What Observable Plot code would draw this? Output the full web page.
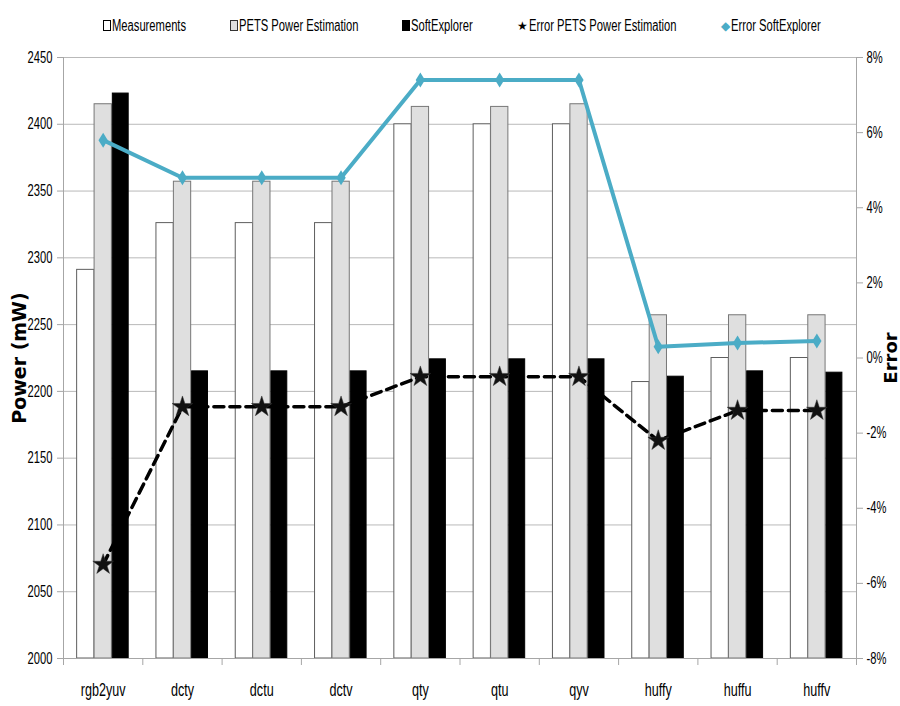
<!DOCTYPE html>
<html>
<head>
<meta charset="utf-8">
<script src="https://cdn.jsdelivr.net/npm/d3@7"></script>
<script src="https://cdn.jsdelivr.net/npm/@observablehq/plot@0.6"></script>
<style>
  body { margin: 0; background: #fff; }
  #legend {
    height: 40px; display: flex; align-items: center; padding: 11px 0 0 103px; box-sizing: border-box; gap: 44px;
    font-family: "Liberation Sans", Arial, sans-serif; font-size: 16px; color: #000;
  }
  #legend .item { display: flex; align-items: center; white-space: nowrap; }
  #legend .box { display: inline-block; width: 8px; height: 11px; box-sizing: border-box; margin-right: 1px; }
  #legend .sym { display: inline-block; font-size: 12px; line-height: 1; margin-right: 1px; }
  #legend .label { display: inline-block; transform: scaleX(0.7); transform-origin: left center; }
</style>
</head>
<body>
<div id="legend"></div>
<div id="chart"></div>
<script>
// Kernels and the power of each run
const categories = ["rgb2yuv", "dcty", "dctu", "dctv", "qty", "qtu", "qyv", "huffy", "huffu", "huffv"];
const measurements = [2291, 2326, 2326, 2326, 2400, 2400, 2400, 2207, 2225, 2225];
const petsEstimation = [2415, 2357, 2357, 2357, 2413, 2413, 2415, 2257, 2257, 2257];
const softExplorer = [2423, 2215, 2215, 2215, 2224, 2224, 2224, 2211, 2215, 2214];
// Estimation error, percent
const errorPets = [-5.5, -1.3, -1.3, -1.3, -0.5, -0.5, -0.5, -2.2, -1.4, -1.4];
const errorSoftExplorer = [5.8, 4.8, 4.8, 4.8, 7.4, 7.4, 7.4, 0.3, 0.4, 0.45];
// Axis ticks
const powerTicks = [2000, 2050, 2100, 2150, 2200, 2250, 2300, 2350, 2400, 2450];
const errorTicks = [-8, -6, -4, -2, 0, 2, 4, 6, 8];

const font = '"Liberation Sans", Arial, sans-serif';
const squeeze = 0.7; // narrow lettering
const cyan = "#4bacc6";

// Secondary (error) axis shares the frame with the power axis
const errToPower = d3.scaleLinear([errorTicks[0], errorTicks[errorTicks.length - 1]],
                                  [powerTicks[0], powerTicks[powerTicks.length - 1]]);

// Three bars per kernel: left edge within the kernel's unit slot, and width
const barWidth = 0.218;
const series = [
  {name: "Measurements", values: measurements, offset: 0.172, fill: "#ffffff", stroke: "#5e5e5e"},
  {name: "PETS Power Estimation", values: petsEstimation, offset: 0.392, fill: "#dfdfdf", stroke: "#777777"},
  {name: "SoftExplorer", values: softExplorer, offset: 0.622, fill: "#000000", stroke: "#000000", width: 0.2}
];
const barRows = series.flatMap(s => s.values.map((v, i) => ({
  i, value: v, x1: i + s.offset, x2: i + s.offset + (s.width ?? barWidth), fill: s.fill, stroke: s.stroke
})));
const petsErrRows = errorPets.map((e, i) => ({i, e}));
const softErrRows = errorSoftExplorer.map((e, i) => ({i, e}));

// Tall diamond marker
const tallDiamond = {
  draw(ctx, size) {
    const r = Math.sqrt(size / Math.PI);
    ctx.moveTo(0, -r); ctx.lineTo(r * 0.62, 0); ctx.lineTo(0, r); ctx.lineTo(-r * 0.62, 0); ctx.closePath();
  }
};

const fmtPct = d => `${Math.round(errToPower.invert(d))}%`;

const chart = Plot.plot({
  width: 900,
  height: 666,
  marginTop: 17,
  marginBottom: 48,
  marginLeft: 63,
  marginRight: 44,
  style: {fontFamily: font, fontSize: "16px", color: "#000", background: "#fff", overflow: "visible"},
  x: {type: "linear", domain: [0, categories.length], label: null},
  y: {domain: [powerTicks[0], powerTicks[powerTicks.length - 1]], label: null},
  marks: [
    Plot.ruleY(powerTicks, {stroke: "#b9b9b9", strokeWidth: 1}),
    Plot.rectY(barRows, {x1: "x1", x2: "x2", y1: powerTicks[0], y2: "value", fill: d => d.fill, stroke: d => d.stroke, strokeWidth: 1}),
    Plot.ruleX([0, categories.length], {stroke: "#a6a6a6"}),
    Plot.ruleY([powerTicks[0]], {stroke: "#a6a6a6"}),
    // left power axis
    Plot.axisY(powerTicks, {anchor: "left", tickSize: 6, tickPadding: 5, stroke: "#a6a6a6", tickFormat: d => String(d), fontSize: 16, fontFamily: font, label: null}),
    // right error axis
    Plot.axisY(errorTicks.map(e => errToPower(e)), {anchor: "right", tickSize: 6, tickPadding: 4, stroke: "#a6a6a6", tickFormat: fmtPct, fontSize: 16, fontFamily: font, label: null}),
    // boundaries between kernels
    Plot.axisX(d3.range(categories.length + 1), {tickSize: 7, stroke: "#a6a6a6", tickFormat: () => "", label: null}),
    // kernel names
    Plot.axisX(categories.map((c, i) => i + 0.5), {tickSize: 0, tickPadding: 25, tickFormat: d => categories[Math.floor(d)], fontSize: 18, fontFamily: font, label: null}),
    // error lines
    Plot.line(petsErrRows, {x: d => d.i + 0.5, y: d => errToPower(d.e), stroke: "#000", strokeWidth: 3.5, strokeDasharray: "10,6"}),
    Plot.dot(petsErrRows, {x: d => d.i + 0.5, y: d => errToPower(d.e), symbol: "star", r: 6.5, fill: "#111", stroke: "#333", strokeWidth: 0.5}),
    Plot.line(softErrRows, {x: d => d.i + 0.5, y: d => errToPower(d.e), stroke: cyan, strokeWidth: 4}),
    Plot.dot(softErrRows, {x: d => d.i + 0.5, y: d => errToPower(d.e), symbol: tallDiamond, r: 7.5, fill: cyan}),
    // axis titles
    Plot.text(["Power (mW)"], {frameAnchor: "left", textAnchor: "middle", rotate: -90, dx: -44, fontWeight: "bold", fontSize: 19, fontFamily: "DejaVu Sans", fill: "#000"}),
    Plot.text(["Error"], {frameAnchor: "right", textAnchor: "middle", rotate: -90, dx: 35, fontWeight: "bold", fontSize: 18, fontFamily: "DejaVu Sans", fill: "#000"})
  ]
});

// Narrow the horizontal tick and category lettering in place
d3.select(chart).selectAll("text").each(function() {
  const t = d3.select(this);
  const tr = t.attr("transform") || "";
  if (tr.includes("rotate")) return;
  const xa = t.attr("x");
  const x = xa != null && isFinite(+xa) ? +xa : 0;
  if (xa != null && isFinite(+xa)) t.attr("x", null);
  t.attr("transform", `${tr} translate(${x},0) scale(${squeeze},1)`);
});
document.getElementById("chart").append(chart);

// Legend
const legendItems = [
  {label: "Measurements", box: {background: "#fff", border: "1px solid #000"}},
  {label: "PETS Power Estimation", box: {background: "#dfdfdf", border: "1px solid #333"}},
  {label: "SoftExplorer", box: {background: "#000", border: "1px solid #000"}},
  {label: "Error PETS Power Estimation", sym: "★", color: "#000"},
  {label: "Error SoftExplorer", sym: "◆", color: cyan}
];
const legend = d3.select("#legend");
for (const it of legendItems) {
  const item = legend.append("div").attr("class", "item");
  if (it.box) {
    item.append("span").attr("class", "box").style("background", it.box.background).style("border", it.box.border);
  } else {
    item.append("span").attr("class", "sym").style("color", it.color).text(it.sym);
  }
  const lab = item.append("span").attr("class", "label").text(it.label).node();
  // give the layout the narrowed width
  lab.style.marginRight = `${-(1 - squeeze) * lab.offsetWidth}px`;
}
</script>
</body>
</html>
